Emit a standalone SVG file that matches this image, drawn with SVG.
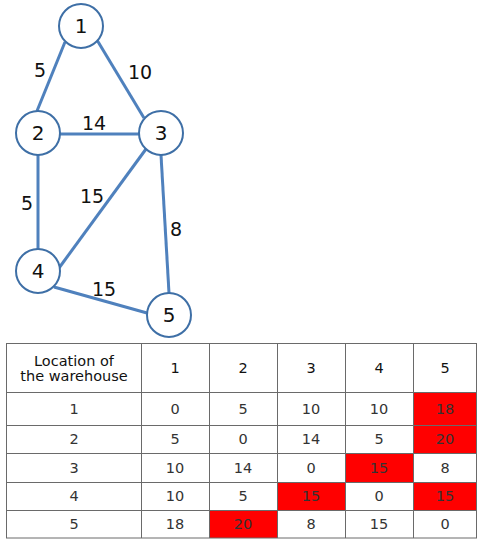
<svg xmlns="http://www.w3.org/2000/svg" width="484" height="545" viewBox="0 0 484 545">
<style>
.edge{stroke:#4F81BD;stroke-width:3;fill:none}
.node circle{fill:#fff;stroke:#3E6FA6;stroke-width:2}
.node text{font-family:"DejaVu Sans",sans-serif;font-size:20px;fill:#111;text-anchor:middle}
.elabel{font-family:"DejaVu Sans",sans-serif;font-size:19px;fill:#111;text-anchor:middle}
.grid{stroke:#6a6a6a;stroke-width:1;fill:none}
.red{fill:#FF0000}
.t{font-family:"DejaVu Sans",sans-serif;font-size:14.5px;fill:#333;text-anchor:middle}
.h{fill:#111}
</style>
<rect width="484" height="545" fill="#fff"/>
<g id="connectors">
<line class="edge" x1="65" y1="42" x2="37" y2="111"/>
<line class="edge" x1="97" y1="40" x2="144" y2="118"/>
<line class="edge" x1="60" y1="134" x2="139" y2="134"/>
<line class="edge" x1="38" y1="155" x2="38" y2="249"/>
<line class="edge" x1="146" y1="149" x2="59" y2="268"/>
<line class="edge" x1="161" y1="155" x2="169" y2="293"/>
<line class="edge" x1="54" y1="287" x2="147" y2="313"/>
<text class="elabel" x="40" y="77">5</text>
<text class="elabel" x="140" y="79">10</text>
<text class="elabel" x="94" y="130">14</text>
<text class="elabel" x="27" y="210">5</text>
<text class="elabel" x="92" y="203">15</text>
<text class="elabel" x="176" y="236">8</text>
<text class="elabel" x="104" y="296">15</text>
</g>
<g id="node1" class="node"><circle cx="81" cy="26" r="22"/><text x="81" y="33">1</text></g>
<g id="node2" class="node"><circle cx="38" cy="133" r="22"/><text x="38" y="140">2</text></g>
<g id="node3" class="node"><circle cx="161" cy="133" r="22"/><text x="161" y="140">3</text></g>
<g id="node4" class="node"><circle cx="38" cy="271" r="22"/><text x="38" y="278">4</text></g>
<g id="node5" class="node"><circle cx="169" cy="315" r="22"/><text x="169" y="322">5</text></g>
<g id="table">
<rect class="red" x="413" y="392" width="64" height="33"/>
<rect class="red" x="413" y="425" width="64" height="28"/>
<rect class="red" x="345" y="453" width="68" height="29"/>
<rect class="red" x="277" y="482" width="68" height="28"/>
<rect class="red" x="413" y="482" width="64" height="28"/>
<rect class="red" x="209" y="510" width="68" height="28"/>
<rect class="grid" x="6.5" y="343.5" width="470" height="194.5"/>
<path class="grid" d="M141.5 343V538M209.5 343V538M277.5 343V538M345.5 343V538M413.5 343V538M6 392.5H477M6 425.5H477M6 453.5H477M6 482.5H477M6 510.5H477"/>
<text class="t h" x="74" y="366">Location of</text>
<text class="t h" x="74" y="381">the warehouse</text>
<text class="t h" x="175" y="373">1</text>
<text class="t h" x="243" y="373">2</text>
<text class="t h" x="311" y="373">3</text>
<text class="t h" x="379" y="373">4</text>
<text class="t h" x="445" y="373">5</text>
<text class="t" x="74" y="414">1</text><text class="t" x="175" y="414">0</text><text class="t" x="243" y="414">5</text><text class="t" x="311" y="414">10</text><text class="t" x="379" y="414">10</text><text class="t" x="445" y="414">18</text>
<text class="t" x="74" y="444">2</text><text class="t" x="175" y="444">5</text><text class="t" x="243" y="444">0</text><text class="t" x="311" y="444">14</text><text class="t" x="379" y="444">5</text><text class="t" x="445" y="444">20</text>
<text class="t" x="74" y="473">3</text><text class="t" x="175" y="473">10</text><text class="t" x="243" y="473">14</text><text class="t" x="311" y="473">0</text><text class="t" x="379" y="473">15</text><text class="t" x="445" y="473">8</text>
<text class="t" x="74" y="501">4</text><text class="t" x="175" y="501">10</text><text class="t" x="243" y="501">5</text><text class="t" x="311" y="501">15</text><text class="t" x="379" y="501">0</text><text class="t" x="445" y="501">15</text>
<text class="t" x="74" y="529">5</text><text class="t" x="175" y="529">18</text><text class="t" x="243" y="529">20</text><text class="t" x="311" y="529">8</text><text class="t" x="379" y="529">15</text><text class="t" x="445" y="529">0</text>
</g>
</svg>
